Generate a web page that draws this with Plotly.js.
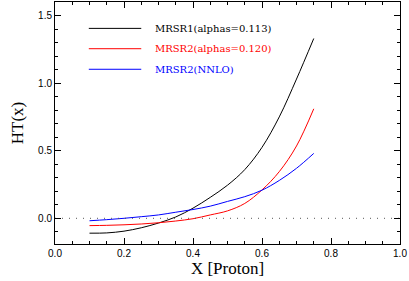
<!DOCTYPE html>
<html><head><meta charset="utf-8">
<script src="https://cdn.plot.ly/plotly-3.0.1.min.js"></script>
<style>html,body{margin:0;padding:0;background:#fff;}#c{width:409px;height:281px;}</style>
</head><body><div id="c"></div>
<script>
var xVals = [0.10,0.15,0.20,0.25,0.30,0.35,0.40,0.45,0.50,0.55,0.60,0.65,0.70,0.75];
var mrsr1 = [-0.110,-0.108,-0.095,-0.070,-0.035,0.010,0.075,0.155,0.245,0.360,0.525,0.750,1.030,1.330];
var mrsr2a = [-0.054,-0.052,-0.048,-0.042,-0.033,-0.020,-0.003,0.025,0.055,0.110,0.210,0.345,0.535,0.810];
var mrsr2n = [-0.018,-0.010,0.000,0.012,0.025,0.045,0.065,0.090,0.125,0.160,0.208,0.280,0.370,0.480];
var names = ['MRSR1(alphas=0.113)','MRSR2(alphas=0.120)','MRSR2(NNLO)'];
var colors = ['#000000','#ff0000','#0000ff'];
var series = [mrsr1, mrsr2a, mrsr2n];

var traces = series.map(function(s,i){
  return {x:xVals, y:s, mode:'lines', name:names[i], line:{color:colors[i], width:1, shape:'spline'}, showlegend:false};
});
traces.push({x:[0,1], y:[0,0], mode:'lines', line:{color:'#555', width:1, dash:'1px,6px'}, showlegend:false, hoverinfo:'skip'});

var shapes = [], annotations = [];
var legY = [0.891, 0.807, 0.722];
names.forEach(function(n,i){
  shapes.push({type:'line', xref:'paper', yref:'paper', x0:0.098, x1:0.25, y0:legY[i], y1:legY[i], line:{color:colors[i], width:1}});
  annotations.push({xref:'paper', yref:'paper', x:0.285, y:legY[i], xanchor:'left', yanchor:'middle', text:n, showarrow:false, font:{family:'DejaVu Serif, serif', size:10, color:colors[i]}});
});

var axBase = {showline:true, linecolor:'#000', linewidth:1, mirror:'allticks', ticks:'inside', ticklen:6, tickcolor:'#000', zeroline:false, showgrid:false, tickfont:{family:'Liberation Sans, Arial, sans-serif', size:10, color:'#000'}};
var layout = {
  width:409, height:281, margin:{l:55, r:8.5, t:2, b:37},
  paper_bgcolor:'#fff', plot_bgcolor:'#fff',
  xaxis:Object.assign({}, axBase, {range:[0,1], tickvals:[0,0.2,0.4,0.6,0.8,1.0], ticktext:['0.0','0.2','0.4','0.6','0.8','1.0'], minor:{dtick:0.05, ticks:'inside', ticklen:3, tickcolor:'#000'}, title:{text:'X [Proton]', font:{family:'Liberation Serif, serif', size:17, color:'#000'}, standoff:3}}),
  yaxis:Object.assign({}, axBase, {range:[-0.19,1.6], tickvals:[0,0.5,1.0,1.5], ticktext:['0.0','0.5','1.0','1.5'], minor:{dtick:0.1, ticks:'inside', ticklen:3, tickcolor:'#000'}, title:{text:'HT(x)', font:{family:'Liberation Serif, serif', size:17, color:'#000'}, standoff:10}}),
  shapes:shapes, annotations:annotations
};
Plotly.newPlot('c', traces, layout, {staticPlot:true, displayModeBar:false});
</script></body></html>
